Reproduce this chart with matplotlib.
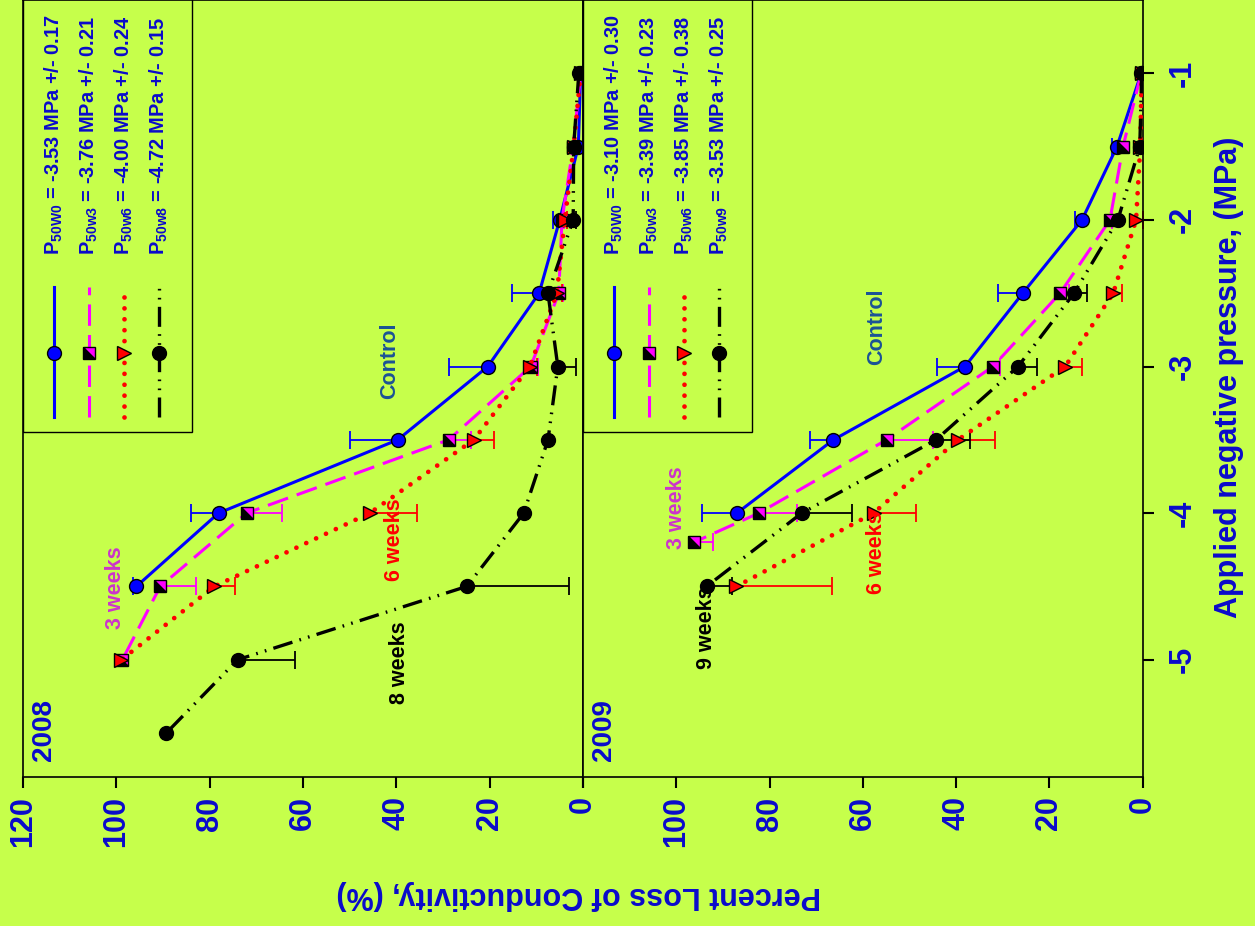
import matplotlib
matplotlib.use('Agg')
import matplotlib.pyplot as plt
import numpy as np
from matplotlib.markers import MarkerStyle
from matplotlib.patches import Rectangle
from matplotlib.transforms import Affine2D

plt.rcParams['font.family'] = ['Liberation Sans', 'DejaVu Sans']
plt.rcParams['font.weight'] = 'bold'
plt.rcParams['mathtext.fontset'] = 'custom'
plt.rcParams['mathtext.rm'] = 'Liberation Sans:bold'
plt.rcParams['mathtext.bf'] = 'Liberation Sans:bold'

BG = '#C6FF4B'
TXT = '#0A0ACC'

# ---- 2008 data (pressure in MPa, percent loss of conductivity) ----
ctrl08_p = [-1, -1.5, -2, -2.5, -3, -3.5, -4, -4.5]
ctrl08 = [0.5, 1.0, 5.0, 9.4, 20.4, 39.7, 78.1, 95.7]
ctrl08_err = [0, 0, 1.4, 5.8, 8.4, 10.3, 5.8, 0.8]

w3_08_p = [-1, -1.5, -2, -2.5, -3, -3.5, -4, -4.5, -5]
w3_08 = [0.5, 2.1, 4.5, 5.2, 11.2, 28.8, 72.1, 90.6, 98.7]
w3_08_err = [0, 0, 0.5, 1.0, 1.5, 4.9, 7.5, 7.7, 0]

w6_08_p = [-1, -1.5, -2, -2.5, -3, -3.5, -4, -4.5, -5]
w6_08 = [0.5, 2.0, 3.9, 5.6, 11.4, 23.4, 45.7, 79.0, 98.9]
w6_08_err = [0, 0, 0.5, 1.0, 1.5, 4.3, 10.1, 4.5, 0]

w8_08_p = [-1, -1.5, -2, -2.5, -3, -3.5, -4, -4.5, -5, -5.5]
w8_08 = [0.9, 2.0, 2.1, 7.5, 5.4, 7.5, 12.7, 24.9, 74.0, 89.3]
w8_08_err = [0, 0, 0.5, 0, 3.9, 0, 0, 22.0, 12.2, 0]

# ---- 2009 data ----
ctrl09_p = [-1, -1.5, -2, -2.5, -3, -3.5, -4]
ctrl09 = [0.3, 5.5, 13.0, 25.7, 38.1, 66.3, 87.0]
ctrl09_err = [0, 1.0, 1.4, 5.3, 6.0, 5.0, 7.5]

w3_09_p = [-1, -1.5, -2, -2.5, -3, -3.5, -4, -4.2]
w3_09 = [0.3, 4.2, 7.0, 17.7, 32.1, 54.9, 82.3, 96.3]
w3_09_err = [0, 0, 0.5, 2.0, 1.5, 10.0, 8.1, 4.1]

w6_09_p = [-1, -1.5, -2, -2.5, -3, -3.5, -4, -4.5]
w6_09 = [0.2, 0.5, 1.4, 6.3, 16.6, 39.6, 57.7, 87.1]
w6_09_err = [0, 0, 1.4, 1.9, 3.6, 8.0, 9.1, 20.6]

w9_09_p = [-1, -1.5, -2, -2.5, -3, -3.5, -4, -4.5]
w9_09 = [0.2, 0.6, 5.3, 14.7, 26.7, 44.3, 73.1, 93.5]
w9_09_err = [0, 0, 0, 2.8, 4.1, 7.3, 10.7, 5.4]

labels08 = [r'$\mathbf{P_{50W0}}$ = -3.53 MPa +/- 0.17',
            r'$\mathbf{P_{50w3}}$ = -3.76 MPa +/- 0.21',
            r'$\mathbf{P_{50w6}}$ = -4.00 MPa +/- 0.24',
            r'$\mathbf{P_{50w8}}$ = -4.72 MPa +/- 0.15']
labels09 = [r'$\mathbf{P_{50W0}}$ = -3.10 MPa +/- 0.30',
            r'$\mathbf{P_{50w3}}$ = -3.39 MPa +/- 0.23',
            r'$\mathbf{P_{50w6}}$ = -3.85 MPa +/- 0.38',
            r'$\mathbf{P_{50w9}}$ = -3.53 MPa +/- 0.25']

# annotations: (text, percent, pressure, color)
notes08 = [('Control', 41.4, -2.96, '#1A5296'), ('3 weeks', 100.2, -4.51, '#CC33CC'),
           ('6 weeks', 40.3, -4.18, 'red'), ('8 weeks', 39.3, -5.02, 'black')]
notes09 = [('Control', 57.0, -2.73, '#1A5296'), ('3 weeks', 99.9, -3.96, '#CC33CC'),
           ('6 weeks', 57.0, -4.27, 'red'), ('9 weeks', 93.5, -4.78, 'black')]

pct_ticks = [0, 20, 40, 60, 80, 100, 120]
pres_ticks = [-5, -4, -3, -2, -1]

# series styles
half_square = MarkerStyle('D', fillstyle='bottom', transform=Affine2D().rotate_deg(-45))
styles = [
    dict(color='#0000FF', ls='-', lw=2.2, marker='o', ms=10, mfc='#0000FF', mec='black', mew=1),
    dict(color='#FF00FF', ls=(0, (7, 3)), lw=2.2, marker=half_square, ms=9,
         mfc='black', mfcalt='#FF00FF', mec='black', mew=1),
    dict(color='red', ls=(0, (0.01, 2.3)), lw=3.4, dash_capstyle='round', marker='>', ms=10,
         mfc='red', mec='black', mew=1),
    dict(color='black', ls=(0, (6, 2.2, 0.5, 2.2, 0.5, 2.2)), lw=2.4, marker='o', ms=10,
         mfc='black', mec='black', mew=1),
]


def err_bars(ax, pr, val, err, color, upper):
    pr, val, err = np.asarray(pr), np.asarray(val), np.asarray(err)
    m = err > 0
    end = val[m] + err[m] if upper else val[m] - err[m]
    ax.hlines(pr[m], val[m], end, color=color, lw=1.3, zorder=2)
    ax.plot(end, pr[m], ls='none', marker='|', ms=13, mew=1.3, color=color, zorder=2)


def draw_panel(ax, series, labels, notes, year):
    ax.set_facecolor(BG)
    for (p, v, e), st, upper in zip(series, styles, [True, False, False, False]):
        err_bars(ax, p, v, e, st['color'], upper)
        ax.plot(v, p, zorder=3, **st)
    for txt, x, y, c in notes:
        ax.text(x, y, txt, rotation=90, ha='center', va='center', color=c, fontsize=15.5)
    ax.text(115.4, -5.48, year, rotation=90, ha='center', va='center', color=TXT, fontsize=20)

    # hand-drawn legend (figure is rotated)
    ax.add_patch(Rectangle((0, 0.444), 0.302, 0.6, transform=ax.transAxes, fill=False,
                           ec='black', lw=1.0, zorder=4))
    cols = [0.055, 0.118, 0.180, 0.243]
    for xc, st, lab in zip(cols, styles, labels):
        ax.plot([xc, xc, xc], [0.463, 0.546, 0.631], transform=ax.transAxes,
                markevery=[1], zorder=5, **st)
        ax.text(xc, 0.672, lab, rotation=90, ha='center', va='bottom', color=TXT,
                fontsize=14.4, transform=ax.transAxes)

    ax.set_xlim(120, 0)
    ax.set_ylim(-5.8, -0.5)
    ax.set_xticks(pct_ticks)
    for s in ax.spines.values():
        s.set_linewidth(1.2)
    ax.tick_params(axis='x', direction='out', length=8, width=1.5, pad=6,
                   labelsize=22, labelcolor=TXT, labelrotation=90)


fig = plt.figure(figsize=(12.55, 9.26), dpi=100)
fig.patch.set_facecolor(BG)

ax1 = fig.add_axes([23 / 1255, 149 / 926, 560 / 1255, 777 / 926])
ax2 = fig.add_axes([583 / 1255, 149 / 926, 559.6 / 1255, 777 / 926])

draw_panel(ax1,
           [(ctrl08_p, ctrl08, ctrl08_err), (w3_08_p, w3_08, w3_08_err),
            (w6_08_p, w6_08, w6_08_err), (w8_08_p, w8_08, w8_08_err)],
           labels08, notes08, '2008')
draw_panel(ax2,
           [(ctrl09_p, ctrl09, ctrl09_err), (w3_09_p, w3_09, w3_09_err),
            (w6_09_p, w6_09, w6_09_err), (w9_09_p, w9_09, w9_09_err)],
           labels09, notes09, '2009')

ax1.set_yticks([])
ax1.set_xticklabels([str(t) for t in pct_ticks])
ax2.set_xticklabels([str(t) for t in pct_ticks[:-1]] + [''])
ax2.yaxis.tick_right()
ax2.set_yticks(pres_ticks)
ax2.set_yticklabels([str(t) for t in pres_ticks])
ax2.tick_params(axis='y', direction='out', length=8, width=1.5, pad=10,
                labelsize=22, labelcolor=TXT, labelrotation=90)
for lab in ax2.get_yticklabels():
    lab.set_verticalalignment('center')

fig.text(0.461, 0.034, 'Percent Loss of Conductivity, (%)', rotation=180,
         ha='center', va='center', color=TXT, fontsize=22)
fig.text(0.979, 0.592, 'Applied negative pressure, (MPa)', rotation=90,
         ha='center', va='center', color=TXT, fontsize=22)

fig.savefig('out.png', dpi=100, facecolor=BG)
